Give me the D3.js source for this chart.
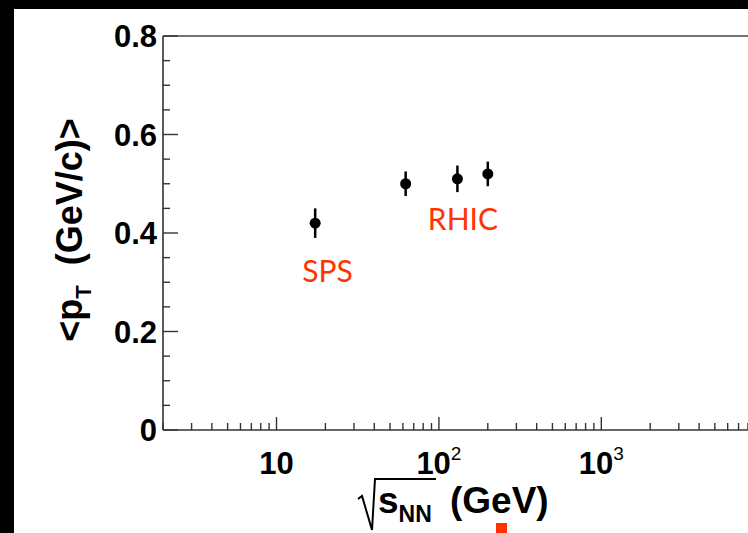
<!DOCTYPE html>
<html><head><meta charset="utf-8">
<script src="https://cdn.jsdelivr.net/npm/d3@7"></script>
<style>html,body{margin:0;padding:0;background:#fff;overflow:hidden}</style>
</head><body>
<svg id="c" width="748" height="533"></svg>
<script>
// ---- data ----
const energies = [17.3, 62.4, 130, 200];          // sqrt(s_NN) GeV
const meanPt   = [0.42, 0.50, 0.51, 0.52];        // <pT> GeV/c
const errPt    = [0.030, 0.025, 0.027, 0.025];
const yTickLabels = ["0", "0.2", "0.4", "0.6", "0.8"];
const xTickValues = [10, 100, 1000];
const xTickBases  = ["10", "10", "10"];
const xTickExps   = ["", "2", "3"];
const labels = [{text: "SPS", x: 14.4, y: 0.300}, {text: "RHIC", x: 85.5, y: 0.406}];

const svg = d3.select("#c");
const W = 748, H = 533;
const L = 163, T = 36, B = 430;
const decade = 162.4;

svg.append("rect").attr("x",0).attr("y",0).attr("width",W).attr("height",H).attr("fill","#000");
svg.append("rect").attr("x",14).attr("y",9).attr("width",W-14).attr("height",H-9).attr("fill","#fff");

const x = d3.scaleLog().domain([2, 1e4]).range([L, L + decade*Math.log10(5000)]);
const y = d3.scaleLinear().domain([0, 0.8]).range([B, T]);

const axisCol = "#333";
const g = svg.append("g");

// frame lines
g.append("line").attr("x1",L).attr("x2",W+5).attr("y1",T).attr("y2",T).attr("stroke","#444").attr("stroke-width",1.6);
g.append("line").attr("x1",L).attr("x2",W+5).attr("y1",B).attr("y2",B).attr("stroke",axisCol).attr("stroke-width",1.6);
g.append("line").attr("x1",L).attr("x2",L).attr("y1",T).attr("y2",B).attr("stroke",axisCol).attr("stroke-width",1.6);

// y ticks
const yMinor = d3.range(0, 0.8001, 0.05);
yMinor.forEach((v,i) => {
  const major = (i % 4 === 0);
  g.append("line").attr("x1",L).attr("x2",L + (major?15:7))
    .attr("y1",y(v)).attr("y2",y(v)).attr("stroke",axisCol).attr("stroke-width",1.4);
});
d3.range(0,5).forEach(i => {
  g.append("text").attr("x",157).attr("y",y(i*0.2)).attr("dy","0.36em")
    .attr("text-anchor","end").attr("font-family","Liberation Sans, Arial, sans-serif")
    .attr("font-weight","bold").attr("font-size",31).text(yTickLabels[i]);
});

// x ticks (log)
const xt = [];
for (let e = 0; e <= 3; e++) for (let m = 1; m <= 9; m++) { const v = m*Math.pow(10,e); if (v >= 2 && v < 1e4) xt.push({v, major: m===1}); }
xt.forEach(t => {
  g.append("line").attr("x1",x(t.v)).attr("x2",x(t.v)).attr("y1",B).attr("y2",B - (t.major?13:7))
    .attr("stroke",axisCol).attr("stroke-width",1.4);
});
xTickValues.forEach((v,i) => {
  const tx = g.append("text").attr("x",x(v)).attr("y",474).attr("text-anchor","middle")
    .attr("font-family","Liberation Sans, Arial, sans-serif").attr("font-weight","bold").attr("font-size",31);
  tx.append("tspan").text(xTickBases[i]);
  if (xTickExps[i]) tx.append("tspan").attr("font-size",19).attr("font-weight","normal").attr("dy",-14).text(xTickExps[i]);
});

// axis titles
const yt = svg.append("text").attr("transform","translate(82,230) rotate(-90)").attr("text-anchor","middle")
  .attr("font-family","Liberation Sans, Arial, sans-serif").attr("font-weight","bold").attr("font-size",36);
yt.append("tspan").text("<p");
yt.append("tspan").attr("font-size",22).attr("dy",9).text("T");
yt.append("tspan").attr("dy",-9).text("\u00a0 (GeV/c)>");

const xtitle = svg.append("text").attr("x",378).attr("y",513)
  .attr("font-family","Liberation Sans, Arial, sans-serif").attr("font-weight","bold").attr("font-size",37);
xtitle.append("tspan").text("s");
xtitle.append("tspan").attr("font-size",23).attr("dy",9).text("NN");
xtitle.append("tspan").attr("x",450).attr("dy",-9).text("(GeV)");
svg.append("path").attr("d","M358,499 L362,496 L372,530 L375,479 L436,479")
  .attr("fill","none").attr("stroke","#000").attr("stroke-width",2);

// data
const data = energies.map((e,i) => ({e, v: meanPt[i], err: errPt[i]}));
const dg = svg.append("g");
dg.selectAll("line.err").data(data).join("line").attr("class","err")
  .attr("x1",d=>x(d.e)).attr("x2",d=>x(d.e)).attr("y1",d=>y(d.v+d.err)).attr("y2",d=>y(d.v-d.err))
  .attr("stroke","#000").attr("stroke-width",2.5);
dg.selectAll("circle").data(data).join("circle")
  .attr("cx",d=>x(d.e)).attr("cy",d=>y(d.v)).attr("r",5.5).attr("fill","#000");

// red labels
svg.selectAll("text.lab").data(labels).join("text").attr("class","lab")
  .attr("x",d=>x(d.x)).attr("y",d=>y(d.y)).attr("font-family","Lato, Open Sans, sans-serif")
  .attr("font-size",30).attr("fill","#ff3300").text(d=>d.text);

svg.append("rect").attr("x",496).attr("y",523).attr("width",11).attr("height",10).attr("fill","#ff3300");
</script>
</body></html>
